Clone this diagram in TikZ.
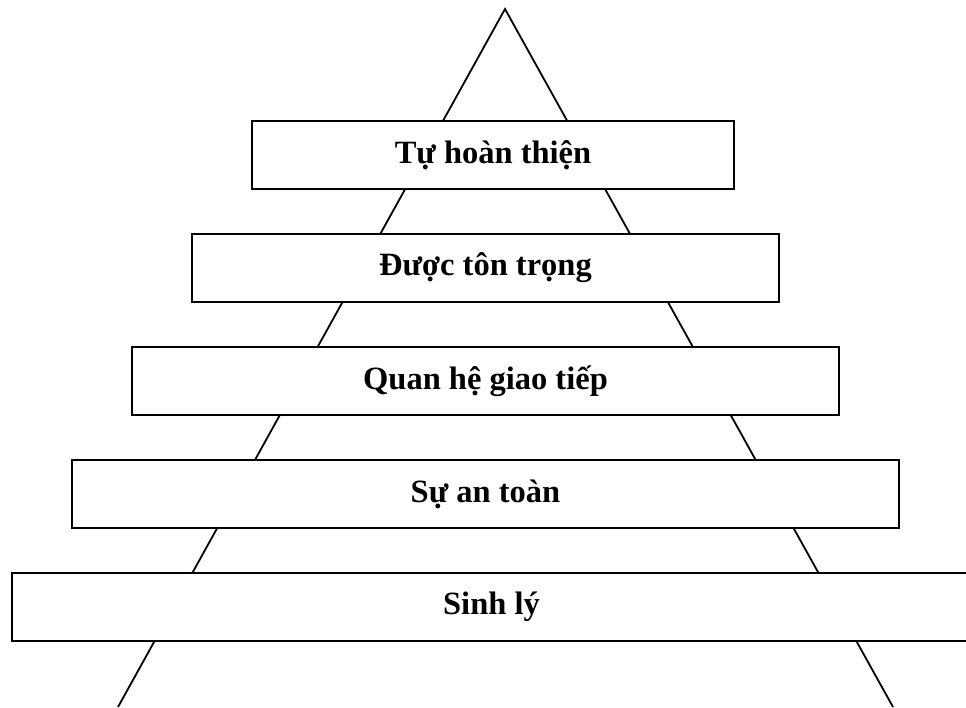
\documentclass[tikz,border=0pt]{standalone}
\usepackage{fontspec}
\setmainfont{Liberation Serif}
\begin{document}
\begin{tikzpicture}[x=1pt,y=-1pt,
  tier/.style={draw=black, line width=1.8pt, fill=white, rectangle, minimum height=68pt,
    inner sep=0pt, font=\fontsize{32.5}{38}\selectfont\bfseries},
  edge/.style={line width=1.8pt, draw=black}]
\useasboundingbox (0,0) rectangle (966,707);
\clip (0,0) rectangle (966,707);
\coordinate (apex) at (505,9);
\coordinate (bl) at (118,707);
\coordinate (br) at (893,707);
\draw[edge, line join=miter] (bl) -- (apex) -- (br);
\node[tier, minimum width=482pt] (t1) at (493,155) {\raisebox{-2pt}{Tự hoàn thiện}};
\node[tier, minimum width=587pt] (t2) at (485.5,268) {\raisebox{-2pt}{Được tôn trọng}};
\node[tier, minimum width=707pt] (t3) at (485.5,381) {\raisebox{-2pt}{Quan hệ giao tiếp}};
\node[tier, minimum width=827pt] (t4) at (485.5,494) {\raisebox{-2pt}{Sự an toàn}};
\node[tier, minimum width=959pt] (t5) at (491.5,607) {\raisebox{-2pt}{Sinh lý}};
\end{tikzpicture}
\end{document}
